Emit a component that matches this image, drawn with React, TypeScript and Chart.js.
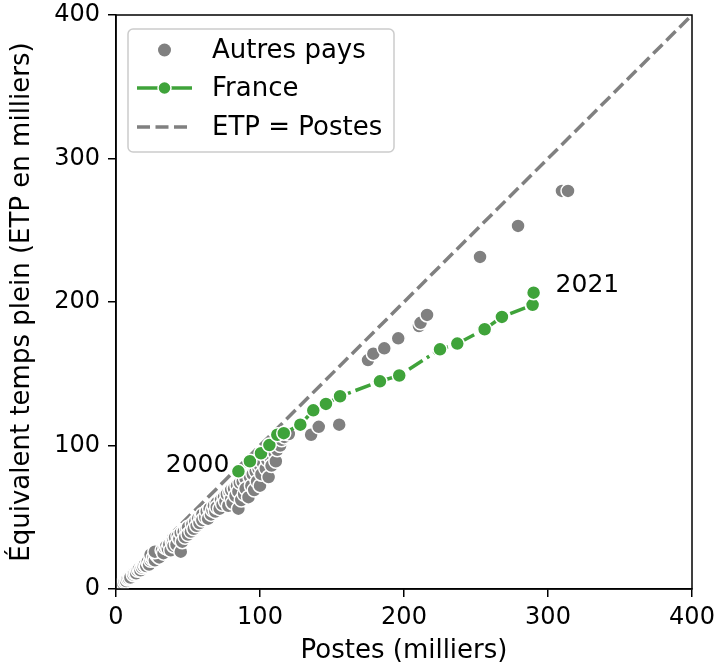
import { useEffect, useRef } from "react";
import { Chart, registerables } from "chart.js";

Chart.register(...registerables);

// Autres pays (milliers)
const othersX = [
  3, 4, 5, 6, 7, 8, 9, 10,
  12, 13, 14, 15, 16, 17, 18, 19, 20, 21, 22, 23, 24, 25, 24, 26, 27, 28, 29, 30, 30, 27,
  32, 33, 34, 35, 36, 37, 38, 39, 40, 40, 41, 42, 43, 44, 45, 45, 46, 47, 48, 49, 50, 50,
  52, 53, 54, 55, 56, 57, 58, 59, 60, 60, 62, 63, 64, 65, 66, 67, 68, 69, 70, 70,
  72, 73, 74, 75, 76, 77, 78, 79, 80, 80, 81, 82, 83, 84, 85, 85, 86, 87, 88, 89, 90, 90,
  92, 93, 94, 95, 96, 97, 98, 99, 100, 100, 101, 102, 104, 105, 106, 107, 108, 110, 111, 112, 114, 115, 117, 120,
  135.5, 140.8, 155, 175, 178.7, 186.3, 196, 210.4, 211.5, 216, 252.8, 279.2, 309.7, 313.9,
];
const othersY = [
  2.5, 3.5, 4, 5, 5.5, 7, 7.5, 8,
  10, 11, 11, 13, 14, 13, 15, 16, 17, 16, 19, 17, 20, 21, 24, 22, 20, 24, 23, 25, 22, 26,
  27, 25, 29, 30, 28, 31, 27, 33, 34, 30, 36, 31, 37, 35, 26, 39, 33, 40, 36, 42, 43, 38,
  40, 45, 42, 47, 44, 49, 46, 50, 52, 48, 50, 54, 49, 56, 52, 55, 58, 54, 60, 57,
  56, 62, 59, 64, 61, 66, 58, 67, 63, 69, 60, 70, 65, 72, 56, 68, 74, 62, 75, 66, 77, 70,
  64, 78, 72, 80, 69, 82, 75, 84, 72, 86, 80, 88, 84, 90, 78, 92, 86, 95, 89, 97, 100, 104, 106, 108,
  107.5, 113, 114.5, 159.5, 164, 167.7, 174.7, 183.3, 185.5, 191, 231.4, 253, 277.4, 277.4,
];

// France, 2000 -> 2021 (milliers)
const franceX = [85, 93, 100.7, 106.5, 112, 116.5, 128, 137, 145.8, 155.6, 183.3, 196.7, 225, 237, 256, 268, 289.3, 290];
const franceY = [82, 89, 94.6, 100.3, 107.5, 108.6, 114.5, 124.5, 129, 134.3, 144.7, 148.8, 167, 171, 181, 189.6, 198, 206.5];

// Reference line ETP = Postes
const refX = [0, 400];
const refY = [0, 400];

const axisMin = 0;
const axisMax = 400;
const tickStep = 100;
const yearLabels = ["2000", "2021"];

const seriesNames = ["Autres pays", "France", "ETP = Postes"];

const GREY = "#808080";
const GREEN = "#3fa33a";
const FONT = "'DejaVu Sans', sans-serif";
const REF_DASH = [13, 5.5];
const FR_DASH = [16, 5, 3, 5];

const decorPlugin = {
  id: "decor",
  afterDatasetsDraw(chart: any) {
    const { ctx, chartArea, scales } = chart;
    ctx.save();
    ctx.strokeStyle = "#000";
    ctx.lineWidth = 1.5;
    ctx.strokeRect(chartArea.left, chartArea.top, chartArea.right - chartArea.left, chartArea.bottom - chartArea.top);
    ctx.fillStyle = "#000";
    ctx.font = `25px ${FONT}`;
    ctx.textBaseline = "middle";
    const first = 0;
    const last = franceX.length - 1;
    ctx.textAlign = "right";
    ctx.fillText(yearLabels[0], scales.x.getPixelForValue(franceX[first]) - 9, scales.y.getPixelForValue(franceY[first]) - 6);
    ctx.textAlign = "left";
    ctx.fillText(yearLabels[1], scales.x.getPixelForValue(franceX[last]) + 22, scales.y.getPixelForValue(franceY[last]) - 7);
    ctx.restore();
  },
  afterDraw(chart: any) {
    const { ctx } = chart;
    ctx.save();
    const x0 = 128, y0 = 29, w = 266, h = 123;
    ctx.beginPath();
    (ctx as any).roundRect(x0, y0, w, h, 5);
    ctx.fillStyle = "rgba(255,255,255,0.8)";
    ctx.fill();
    ctx.strokeStyle = "#cccccc";
    ctx.lineWidth = 1.5;
    ctx.stroke();

    const rows = [50, 88, 127];
    const lx0 = 137, lx1 = 192, lmid = 164.5, tx = 212;
    ctx.beginPath();
    ctx.arc(lmid, rows[0], 6.5, 0, Math.PI * 2);
    ctx.fillStyle = GREY;
    ctx.fill();
    ctx.beginPath();
    ctx.moveTo(lx0, rows[1]);
    ctx.lineTo(lx1, rows[1]);
    ctx.strokeStyle = GREEN;
    ctx.lineWidth = 3.5;
    ctx.stroke();
    ctx.beginPath();
    ctx.arc(lmid, rows[1], 6.5, 0, Math.PI * 2);
    ctx.fillStyle = GREEN;
    ctx.fill();
    ctx.strokeStyle = "#fff";
    ctx.lineWidth = 1.5;
    ctx.stroke();
    ctx.beginPath();
    ctx.setLineDash(REF_DASH);
    ctx.moveTo(lx0, rows[2]);
    ctx.lineTo(lx1, rows[2]);
    ctx.strokeStyle = GREY;
    ctx.lineWidth = 3.5;
    ctx.stroke();
    ctx.setLineDash([]);

    ctx.fillStyle = "#000";
    ctx.font = `26px ${FONT}`;
    ctx.textAlign = "left";
    ctx.textBaseline = "middle";
    seriesNames.forEach((n, i) => ctx.fillText(n, tx, rows[i] + 1));
    ctx.restore();
  },
};

export default function App() {
  const ref = useRef<HTMLCanvasElement | null>(null);
  useEffect(() => {
    if (!ref.current) return;
    const axisCommon = (title: string, titlePadding: any, tickPad: number) => ({
      type: "linear" as const,
      min: axisMin,
      max: axisMax,
      ticks: {
        stepSize: tickStep,
        color: "#000",
        font: { family: FONT, size: 24 },
        padding: tickPad,
      },
      grid: {
        drawOnChartArea: false,
        drawTicks: true,
        tickLength: 8,
        color: "#000",
        lineWidth: 1.5,
      },
      border: { display: true, color: "#000", width: 1.5 },
      title: {
        display: true,
        text: title,
        color: "#000",
        font: { family: FONT, size: 26 },
        padding: titlePadding,
      },
    });
    const chart = new Chart(ref.current, {
      type: "scatter",
      data: {
        datasets: [
          {
            label: seriesNames[0],
            data: othersX.map((x, i) => ({ x, y: othersY[i] })),
            backgroundColor: GREY,
            borderColor: "#ffffff",
            borderWidth: 1.5,
            pointRadius: 7,
            showLine: false,
            order: 1,
          },
          {
            label: seriesNames[1],
            data: franceX.map((x, i) => ({ x, y: franceY[i] })),
            backgroundColor: GREEN,
            borderColor: GREEN,
            pointBackgroundColor: GREEN,
            pointBorderColor: "#ffffff",
            pointBorderWidth: 1.5,
            borderWidth: 3.5,
            borderDash: FR_DASH,
            pointRadius: 7,
            showLine: true,
            order: 0,
          } as any,
          {
            label: seriesNames[2],
            data: refX.map((x, i) => ({ x, y: refY[i] })),
            borderColor: GREY,
            borderWidth: 3.5,
            borderDash: REF_DASH,
            pointRadius: 0,
            showLine: true,
            order: 2,
          },
        ],
      },
      options: {
        animation: false,
        responsive: false,
        maintainAspectRatio: false,
        layout: { padding: { top: 15, right: 28, left: 0, bottom: 0 } },
        plugins: { legend: { display: false }, tooltip: { enabled: false } },
        scales: {
          x: {
            ...axisCommon("Postes (milliers)", { bottom: 3 }, 6),
            afterFit: (s: any) => {
              s.height = 81;
              s.paddingLeft = 0;
              s.paddingRight = 0;
            },
          },
          y: {
            ...axisCommon("Équivalent temps plein (ETP en milliers)", { top: 7 }, 8),
            afterFit: (s: any) => {
              s.width = 116;
              s.paddingTop = 0;
              s.paddingBottom = 0;
            },
          },
        },
      } as any,
      plugins: [decorPlugin],
    });
    return () => chart.destroy();
  }, []);
  return (
    <div style={{ position: "fixed", left: 0, top: 0, width: 720, height: 670, background: "#fff" }}>
      <canvas ref={ref} width={720} height={670} style={{ width: 720, height: 670 }} />
    </div>
  );
}
